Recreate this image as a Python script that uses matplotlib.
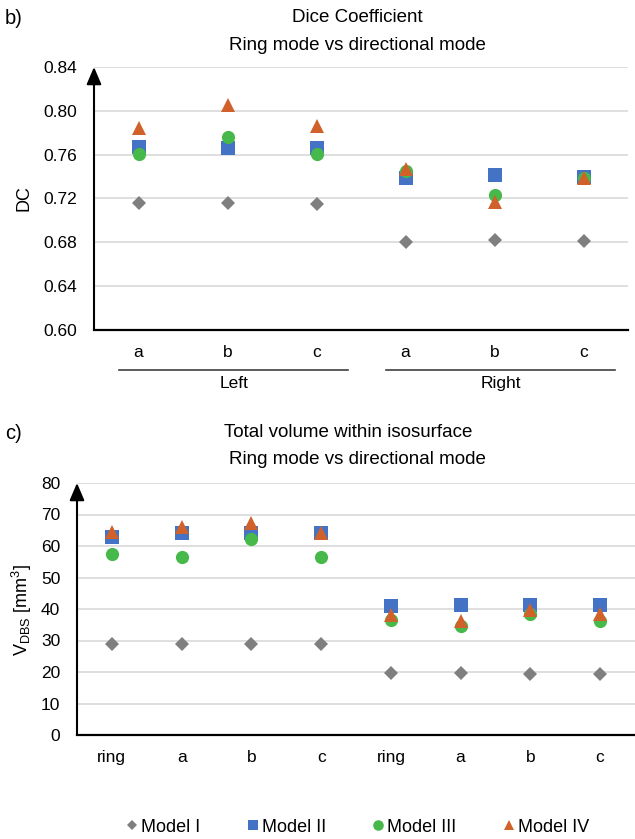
import matplotlib.pyplot as plt
import numpy as np


plt.rcParams["font.family"] = ["Liberation Sans", "DejaVu Sans"]

MODEL_NAMES = ["Model I", "Model II", "Model III", "Model IV"]
MODEL_COLORS = ["#7F7F7F", "#4472C4", "#47B84A", "#D0612B"]
MODEL_MARKERS = ["D", "s", "o", "^"]
MODEL_SIZES = [7, 9.5, 9.5, 9.5]

# Dice coefficient panel (b)
dc_categories = ["a", "b", "c", "a", "b", "c"]
dc_groups = ["Left", "Right"]
dc_model1 = [0.716, 0.716, 0.715, 0.680, 0.682, 0.681]
dc_model2 = [0.767, 0.766, 0.766, 0.739, 0.741, 0.740]
dc_model3 = [0.761, 0.776, 0.761, 0.745, 0.723, 0.739]
dc_model4 = [0.784, 0.805, 0.786, 0.747, 0.717, 0.739]
dc_ticks = [0.60, 0.64, 0.68, 0.72, 0.76, 0.80, 0.84]

# Volume panel (c)
vol_categories = ["ring", "a", "b", "c", "ring", "a", "b", "c"]
vol_model1 = [28.8, 28.8, 28.8, 28.8, 19.6, 19.6, 19.5, 19.5]
vol_model2 = [63.0, 64.0, 64.2, 64.0, 41.0, 41.3, 41.3, 41.3]
vol_model3 = [57.5, 56.6, 62.1, 56.4, 36.6, 34.6, 38.3, 36.2]
vol_model4 = [64.5, 65.9, 67.2, 64.0, 38.1, 36.3, 39.7, 38.4]
vol_ticks = [0, 10, 20, 30, 40, 50, 60, 70, 80]

W, H = 635, 839
LABEL_SIZE = 12.5
TITLE_SIZE = 13.5


def fig_rect(left, top, right, bottom):
    return [left / W, 1 - bottom / H, (right - left) / W, (bottom - top) / H]


def style_axes(ax, categories, ticks, fmt):
    x = np.arange(len(categories))
    ax.set_xlim(-0.5, len(categories) - 0.5)
    ax.set_ylim(ticks[0], ticks[-1])
    ax.set_yticks(ticks)
    ax.set_yticklabels([fmt.format(t) for t in ticks])
    ax.set_xticks(x)
    ax.set_xticklabels(categories)
    ax.tick_params(axis="both", length=0, labelsize=LABEL_SIZE, colors="#000000")
    ax.tick_params(axis="y", pad=12)
    ax.tick_params(axis="x", pad=11)
    ax.grid(axis="y", color="#D9D9D9", linewidth=1.2)
    ax.set_axisbelow(True)
    for side in ["top", "right", "left"]:
        ax.spines[side].set_visible(False)
    ax.spines["bottom"].set_linewidth(1.6)
    ax.spines["bottom"].set_color("black")
    ax.annotate(
        "", xy=(0, 1.0), xytext=(0, 0), xycoords="axes fraction",
        arrowprops=dict(arrowstyle="-|>,head_length=0.75,head_width=0.32", color="black", lw=1.5,
                        mutation_scale=14, shrinkA=0, shrinkB=0),
        annotation_clip=False,
    )


def draw_series(ax, series):
    x = np.arange(len(series[0]))
    handles = []
    for values, name, color, marker, size in zip(series, MODEL_NAMES, MODEL_COLORS, MODEL_MARKERS, MODEL_SIZES):
        (h,) = ax.plot(x, values, linestyle="none", marker=marker, markersize=size,
                       color=color, markeredgewidth=0, label=name, clip_on=False)
        handles.append(h)
    return handles


fig = plt.figure(figsize=(W / 100, H / 100), dpi=100)

# panel b
ax_b = fig.add_axes(fig_rect(94, 67, 628, 330))
style_axes(ax_b, dc_categories, dc_ticks, "{:.2f}")
draw_series(ax_b, [dc_model1, dc_model2, dc_model3, dc_model4])
for i, group in enumerate(dc_groups):
    start = i * 3
    ax_b.plot([start - 0.22, start + 2.35], [-0.152, -0.152], color="#404040", lw=1.2,
              transform=ax_b.get_xaxis_transform(), clip_on=False)
    ax_b.text(start + 1.07, -0.205, group, transform=ax_b.get_xaxis_transform(),
              ha="center", va="center", fontsize=LABEL_SIZE)

fig.text(5 / W, 1 - 19 / H, "b)", fontsize=14.5, ha="left", va="center")
fig.text(357 / W, 1 - 17 / H, "Dice Coefficient", fontsize=TITLE_SIZE, ha="center", va="center")
fig.text(357 / W, 1 - 45 / H, "Ring mode vs directional mode", fontsize=TITLE_SIZE, ha="center", va="center")
fig.text(24 / W, 1 - 198 / H, "DC", fontsize=13, rotation=90, ha="center", va="center")

# panel c
ax_c = fig.add_axes(fig_rect(77, 483, 635, 735))
style_axes(ax_c, vol_categories, vol_ticks, "{:d}")
handles = draw_series(ax_c, [vol_model1, vol_model2, vol_model3, vol_model4])

fig.text(5 / W, 1 - 433 / H, "c)", fontsize=14.5, ha="left", va="center")
fig.text(348 / W, 1 - 432 / H, "Total volume within isosurface", fontsize=TITLE_SIZE, ha="center", va="center")
fig.text(357 / W, 1 - 459 / H, "Ring mode vs directional mode", fontsize=TITLE_SIZE, ha="center", va="center")
fig.text(22 / W, 1 - 610 / H, r"V$_\mathregular{DBS}$ [mm$^\mathregular{3}$]", fontsize=13,
         rotation=90, ha="center", va="center")

fig.legend(handles=handles, loc="center", bbox_to_anchor=(358 / W, 1 - 827 / H), ncol=4,
           frameon=False, fontsize=13, handlelength=0.6, handletextpad=0.2,
           columnspacing=2.6, markerscale=0.8)

fig.savefig("out.png", dpi=100)
